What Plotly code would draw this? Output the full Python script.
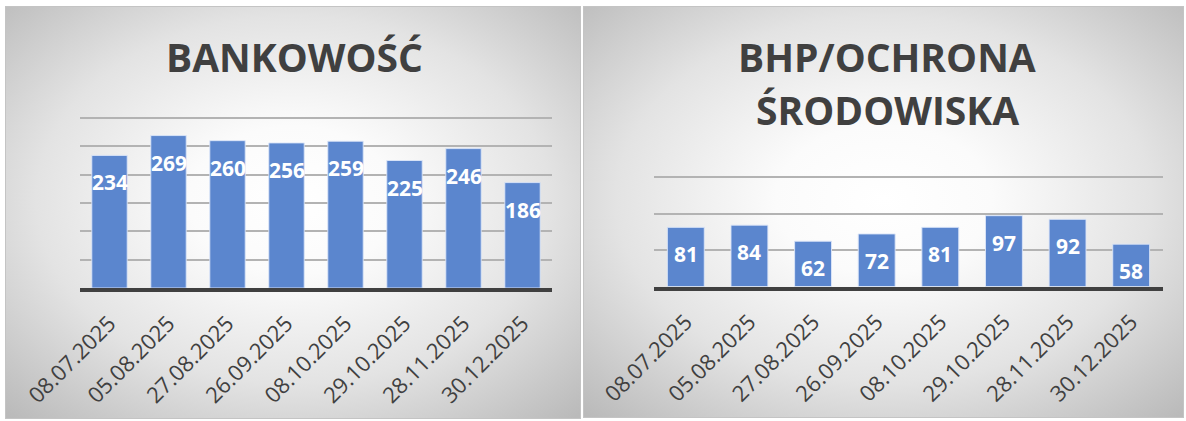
import base64
import plotly.graph_objects as go

# ---- data ----
dates = ["08.07.2025", "05.08.2025", "27.08.2025", "26.09.2025",
         "08.10.2025", "29.10.2025", "28.11.2025", "30.12.2025"]
bank_values = [234, 269, 260, 256, 259, 225, 246, 186]
bhp_values = [81, 84, 62, 72, 81, 97, 92, 58]
bank_axis_max = 300
bhp_axis_max = 150
title_left = "BANKOWOŚĆ"
title_right_lines = ["BHP/OCHRONA", "ŚRODOWISKA"]

W, H = 1186, 421
BAR = "rgb(91,134,206)"
DARK = "#404040"
FONT = "Open Sans"


def px_x(v):
    return v / W


def px_y(v):
    return 1 - v / H


def gradient_svg(w, h):
    svg = (
        f"<svg xmlns='http://www.w3.org/2000/svg' width='{w}' height='{h}' "
        f"viewBox='0 0 {w} {h}' preserveAspectRatio='none'>"
        "<defs><radialGradient id='g' cx='0.5' cy='0.47' r='0.72'>"
        "<stop offset='0' stop-color='#ffffff'/>"
        "<stop offset='0.25' stop-color='#fbfbfb'/>"
        "<stop offset='0.62' stop-color='#e3e3e3'/>"
        "<stop offset='1' stop-color='#bababa'/>"
        "</radialGradient></defs>"
        f"<rect x='0.5' y='0.5' width='{w-1}' height='{h-1}' fill='url(#g)' "
        "stroke='#c4c4c4' stroke-width='1'/></svg>"
    )
    return "data:image/svg+xml;base64," + base64.b64encode(svg.encode()).decode()


# pixel layout of the two plot areas (bottom, top gridline)
L_BOT, L_TOP = 288, 118
R_BOT, R_TOP = 286.5, 177
PAD = 1.025  # extend range slightly so the top gridline is drawn
l_top_px = L_BOT - (L_BOT - L_TOP) * PAD
r_top_px = R_BOT - (R_BOT - R_TOP) * PAD

fig = go.Figure()
fig.add_trace(go.Bar(x=dates, y=bank_values, xaxis="x", yaxis="y", width=0.6,
                     marker=dict(color=BAR, line=dict(color="rgba(220,230,248,0.9)", width=1)),
                     hoverinfo="x+y"))
fig.add_trace(go.Bar(x=dates, y=bhp_values, xaxis="x2", yaxis="y2", width=0.58,
                     marker=dict(color=BAR, line=dict(color="rgba(220,230,248,0.9)", width=1)),
                     hoverinfo="x+y"))

annotations = []
for d, v in zip(dates, bank_values):
    annotations.append(dict(x=d, y=v, xref="x", yref="y", text=str(v), showarrow=False,
                            yshift=-27, yanchor="middle",
                            font=dict(family=FONT, size=21, color="white", weight="bold")))
for d, v in zip(dates, bhp_values):
    annotations.append(dict(x=d, y=v, xref="x2", yref="y2", text=str(v), showarrow=False,
                            yshift=-27, yanchor="middle",
                            font=dict(family=FONT, size=21, color="white", weight="bold")))

title_font = dict(family=FONT, size=39, color=DARK, weight="bold")
annotations.append(dict(x=px_x(294), y=px_y(56), xref="paper", yref="paper", text=title_left,
                        showarrow=False, xanchor="center", yanchor="middle", font=title_font))
for line, ypx in zip(title_right_lines, [56.5, 110]):
    annotations.append(dict(x=px_x(887), y=px_y(ypx), xref="paper", yref="paper", text=line,
                            showarrow=False, xanchor="center", yanchor="middle", font=title_font))

axis_x_common = dict(type="category", tickangle=-45, showgrid=False, showline=True,
                     linecolor=DARK, linewidth=4, ticks="", ticklabelstandoff=10,
                     automargin=False,
                     tickfont=dict(family=FONT, size=22, color=DARK), fixedrange=True)
axis_y_common = dict(showticklabels=False, showgrid=True, gridcolor="#b3b3b3", gridwidth=1.5,
                     zeroline=False, showline=False, ticks="", dtick=50, tick0=0,
                     fixedrange=True, automargin=False)

fig.update_layout(
    width=W, height=H, margin=dict(l=0, r=0, t=0, b=0, pad=0, autoexpand=False),
    paper_bgcolor="white", plot_bgcolor="rgba(0,0,0,0)",
    showlegend=False, bargap=0.4,
    xaxis=dict(domain=[px_x(80), px_x(552)], anchor="y", **axis_x_common),
    yaxis=dict(domain=[px_y(L_BOT), px_y(l_top_px)], range=[0, bank_axis_max * PAD],
               anchor="x", **axis_y_common),
    xaxis2=dict(domain=[px_x(654), px_x(1163)], anchor="y2", **axis_x_common),
    yaxis2=dict(domain=[px_y(R_BOT), px_y(r_top_px)], range=[0, bhp_axis_max * PAD],
                anchor="x2", **axis_y_common),
    annotations=annotations,
    images=[
        dict(source=gradient_svg(576, 413), xref="paper", yref="paper",
             x=px_x(5), y=px_y(6), sizex=576 / W, sizey=413 / H,
             xanchor="left", yanchor="top", sizing="stretch", layer="below"),
        dict(source=gradient_svg(601, 412), xref="paper", yref="paper",
             x=px_x(583), y=px_y(6), sizex=601 / W, sizey=412 / H,
             xanchor="left", yanchor="top", sizing="stretch", layer="below"),
    ],
)

fig.write_html("out.html", config={"displayModeBar": False},
               post_script="document.body.style.margin='0';document.body.style.overflow='hidden';")
